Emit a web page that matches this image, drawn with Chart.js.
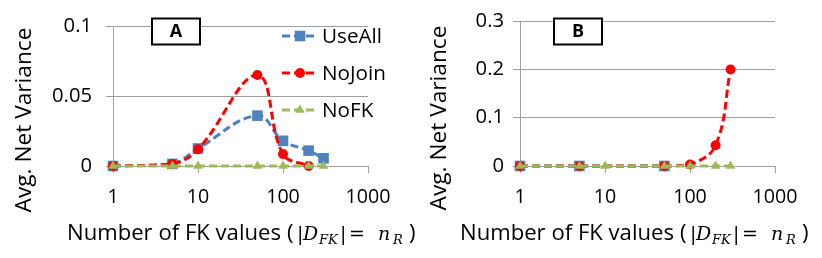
<!DOCTYPE html>
<html><head><meta charset="utf-8">
<script src="https://cdn.jsdelivr.net/npm/chart.js@4/dist/chart.umd.min.js"></script>
<style>
html,body{margin:0;padding:0;background:#fff;}
#wrap{position:relative;width:822px;height:258px;overflow:hidden;background:#fff;}
canvas{position:absolute;left:0;top:0;}
</style></head><body>
<div id="wrap">
<canvas id="cA" width="822" height="258"></canvas>
<canvas id="cB" width="822" height="258"></canvas>
</div>
<script>
// ---- data ----
const seriesNames = ['UseAll', 'NoJoin', 'NoFK'];
const panelLabels = ['A', 'B'];
const xTickValues = [1, 10, 100, 1000];
const yTicksA = [0, 0.05, 0.1];
const yTicksB = [0, 0.1, 0.2, 0.3];

const xA_UseAll = [1, 5, 10, 50, 100, 200, 300];
const yA_UseAll = [0, 0.0015, 0.0125, 0.036, 0.018, 0.011, 0.0055];
const xA_NoJoin = [1, 5, 10, 50, 100, 200];
const yA_NoJoin = [0, 0.0015, 0.012, 0.065, 0.0085, 0];
const xA_NoFK = [1, 5, 10, 50, 100, 200, 300];
const yA_NoFK = [0, 0, 0, 0, 0, 0, 0];

const xB_UseAll = [1, 5, 50];
const yB_UseAll = [0, 0, 0];
const xB_NoJoin = [1, 5, 50, 100, 200, 300];
const yB_NoJoin = [0, 0, 0, 0.003, 0.043, 0.2];
const xB_NoFK = [1, 5, 10, 50, 100, 200, 300];
const yB_NoFK = [0, 0, 0, 0, 0, 0, 0];

const xTitle = 'Number of FK values';
const yTitle = 'Avg. Net Variance';

// ---- styles ----
const SANS = '"Open Sans"';
const SERIF = '"DejaVu Serif"';
const GRID = '#9f9f9f';
const COLORS = ['#4F81BD', '#FF0000', '#9BBB59'];
const STYLES = ['rect', 'circle', 'triangle'];
const RADII = [7.5, 5, 5.5];
const LINE_W = 3;
const DASH = [8, 4];

const mctx = document.createElement('canvas').getContext('2d');
function fitSize(text, weight, target) {
  mctx.font = weight + ' 100px ' + SANS;
  return 100 * target / mctx.measureText(text).width;
}
const xTickSize = fitSize('1000', '', 45);
const yTickSize = fitSize('0.05', '', 40);
const xTitleSize = fitSize(xTitle, '', 214);
const yTitleSize = fitSize(yTitle, '', 185);
const legendSize = fitSize('UseAll', '', 60);

function pts(xs, ys) { return xs.map((x, i) => ({ x: x, y: ys[i] })); }

function mkDatasets(sets) {
  return sets.map((d, i) => ({
    label: seriesNames[i],
    data: pts(d[0], d[1]),
    borderColor: COLORS[i],
    backgroundColor: COLORS[i],
    borderWidth: LINE_W,
    borderDash: DASH,
    pointStyle: STYLES[i],
    pointRadius: RADII[i],
    pointBorderWidth: 0,
    pointBackgroundColor: COLORS[i],
    tension: 0.4,
    clip: false,
    order: 3 - i
  }));
}

function textPlugin(cfg) {
  return {
    id: 'txt' + cfg.label,
    afterDraw(chart) {
      const ctx = chart.ctx;
      ctx.save();
      ctx.fillStyle = '#000';
      // y title
      ctx.save();
      ctx.translate(cfg.yTitleX, cfg.yTitleY);
      ctx.rotate(-Math.PI / 2);
      ctx.font = yTitleSize.toFixed(2) + 'px ' + SANS;
      ctx.textAlign = 'center';
      ctx.textBaseline = 'middle';
      ctx.fillText(yTitle, 0, 0);
      ctx.restore();
      // x title with math
      const x0 = cfg.xTitleX, base = 240;
      ctx.textBaseline = 'alphabetic';
      ctx.textAlign = 'left';
      const sf = xTitleSize.toFixed(2) + 'px ' + SANS;
      ctx.font = sf;
      ctx.fillText(xTitle, x0, base);
      const m = 'italic 19px ' + SERIF;
      const ms = 'italic 13px ' + SERIF;
      const up = '19px ' + SERIF;
      const pieces = [
        ['(', sf, 220, 0],
        ['|', up, 230, 0],
        ['D', m, 236, 0],
        ['FK', ms, 252, 3.5],
        ['|', up, 273, 0],
        ['=', up, 282, 0],
        ['n', m, 311, 0],
        ['R', ms, 326, 3.5],
        [')', sf, 342, 0]
      ];
      pieces.forEach(p => { ctx.font = p[1]; ctx.fillText(p[0], x0 + p[2], base + p[3]); });
      // panel box
      ctx.lineWidth = 2;
      ctx.strokeStyle = '#000';
      ctx.fillStyle = '#fff';
      ctx.fillRect(cfg.boxX, 18.5, 48, 26);
      ctx.strokeRect(cfg.boxX, 18.5, 48, 26);
      ctx.fillStyle = '#000';
      ctx.font = 'bold 18px ' + SANS;
      ctx.textAlign = 'center';
      ctx.textBaseline = 'middle';
      ctx.fillText(cfg.label, cfg.boxX + 24, 32);
      // legend
      if (cfg.legend) {
        const rows = [36, 73, 110];
        seriesNames.forEach((n, i) => {
          const y = rows[i];
          ctx.save();
          ctx.strokeStyle = COLORS[i];
          ctx.lineWidth = LINE_W;
          ctx.setLineDash(DASH);
          ctx.beginPath();
          ctx.moveTo(282, y);
          ctx.lineTo(318, y);
          ctx.stroke();
          ctx.setLineDash([]);
          ctx.fillStyle = COLORS[i];
          Chart.helpers.drawPoint(ctx, { pointStyle: STYLES[i], radius: RADII[i], borderWidth: 0 }, 300, y);
          ctx.restore();
          ctx.fillStyle = '#000';
          ctx.font = legendSize.toFixed(2) + 'px ' + SANS;
          ctx.textAlign = 'left';
          ctx.textBaseline = 'middle';
          ctx.fillText(n, 322, y + 1);
        });
      }
      ctx.restore();
    }
  };
}

function makeChart(id, cfg) {
  return new Chart(document.getElementById(id), {
    type: 'line',
    data: { datasets: mkDatasets(cfg.sets) },
    options: {
      responsive: false,
      animation: false,
      events: [],
      layout: { padding: { left: 0, right: 822 - cfg.right, top: 15.5, bottom: 0 } },
      plugins: { legend: { display: false }, tooltip: { enabled: false } },
      scales: {
        x: {
          type: 'logarithmic', min: 1, max: 1000,
          afterBuildTicks: s => { s.ticks = xTickValues.map(v => ({ value: v })); },
          afterFit: s => { s.height = 92; },
          ticks: { callback: v => String(v), font: { family: SANS, size: xTickSize }, color: '#000', padding: 13, maxRotation: 0, autoSkip: false },
          grid: { drawOnChartArea: false, drawTicks: true, tickLength: 7, color: GRID, lineWidth: 1 },
          border: { color: GRID, width: 1 }
        },
        y: {
          type: 'linear', min: 0, max: cfg.yMax,
          afterBuildTicks: s => { s.ticks = cfg.yTicks.map(v => ({ value: v })); },
          afterFit: s => { s.width = cfg.left; },
          ticks: { callback: v => String(Math.round(v * 100) / 100), font: { family: SANS, size: yTickSize }, color: '#000', padding: cfg.labelPad },
          grid: { color: GRID, lineWidth: 1, drawTicks: true, tickLength: 7 },
          border: { color: GRID, width: 1 }
        }
      }
    },
    plugins: [textPlugin(cfg)]
  });
}

makeChart('cA', {
  label: panelLabels[0], left: 113, right: 368, yMax: 0.1, yTicks: yTicksA, labelPad: 14,
  sets: [[xA_UseAll, yA_UseAll], [xA_NoJoin, yA_NoJoin], [xA_NoFK, yA_NoFK]],
  yTitleX: 25, yTitleY: 120, xTitleX: 67, boxX: 152, legend: true
});
makeChart('cB', {
  label: panelLabels[1], left: 520, right: 775, yMax: 0.3, yTicks: yTicksB, labelPad: 9,
  sets: [[xB_UseAll, yB_UseAll], [xB_NoJoin, yB_NoJoin], [xB_NoFK, yB_NoFK]],
  yTitleX: 440, yTitleY: 118, xTitleX: 460, boxX: 554, legend: false
});
</script>
</body></html>
